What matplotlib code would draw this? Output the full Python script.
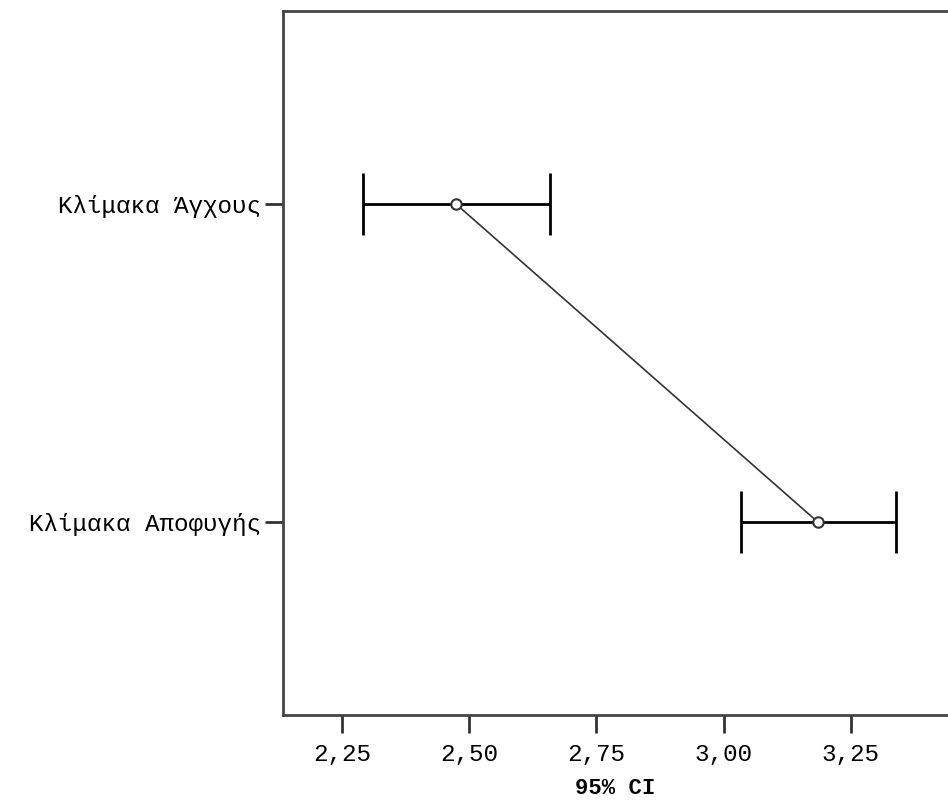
import matplotlib.pyplot as plt

# --- data ---
scales = ['Κλίμακα Άγχους', 'Κλίμακα Αποφυγής']
means = [2.474, 3.185]
ci_low = [2.291, 3.034]
ci_high = [2.659, 3.338]
x_ticks = [2.25, 2.50, 2.75, 3.00, 3.25]
x_tick_labels = ['2,25', '2,50', '2,75', '3,00', '3,25']

plt.rcParams['font.family'] = ['Liberation Mono', 'DejaVu Sans Mono']

fig = plt.figure(figsize=(9.48, 8.07), dpi=100)
# axes box: left 283 px, top 11 px, bottom 715 px, right at image edge
ax = fig.add_axes([283 / 948, 1 - 715 / 807, 1 - 283 / 948, (715 - 11) / 807])

ypos = list(range(len(scales)))
err_lo = [m - lo for m, lo in zip(means, ci_low)]
err_hi = [hi - m for m, hi in zip(means, ci_high)]

# connecting line between the means
ax.plot(means, ypos, color='#333333', linewidth=1.2, zorder=2)

# confidence intervals
ax.errorbar(means, ypos, xerr=[err_lo, err_hi], fmt='none',
            ecolor='black', elinewidth=2, capsize=22.5, capthick=2, zorder=3)

# open circle markers at the means
ax.plot(means, ypos, linestyle='none', marker='o', markersize=7.5,
        markerfacecolor='white', markeredgecolor='#333333',
        markeredgewidth=1.5, zorder=4)

ax.set_xlim(2.134, 3.441)
ax.set_ylim(1.607, -0.607)

ax.set_xticks(x_ticks)
ax.set_xticklabels(x_tick_labels, fontsize=17.5)
ax.set_yticks(ypos)
ax.set_yticklabels(scales, fontsize=17.5)

ax.tick_params(axis='x', length=13, width=2, color='#333333', pad=7)
ax.tick_params(axis='y', length=13, width=2, color='#333333', pad=3)

for side in ['left', 'top', 'bottom']:
    ax.spines[side].set_linewidth(2)
    ax.spines[side].set_color('#444444')
ax.spines['right'].set_visible(False)

ax.set_xlabel('95% CI', fontsize=16, fontweight='bold', labelpad=9)

plt.savefig('out.png', dpi=100)
